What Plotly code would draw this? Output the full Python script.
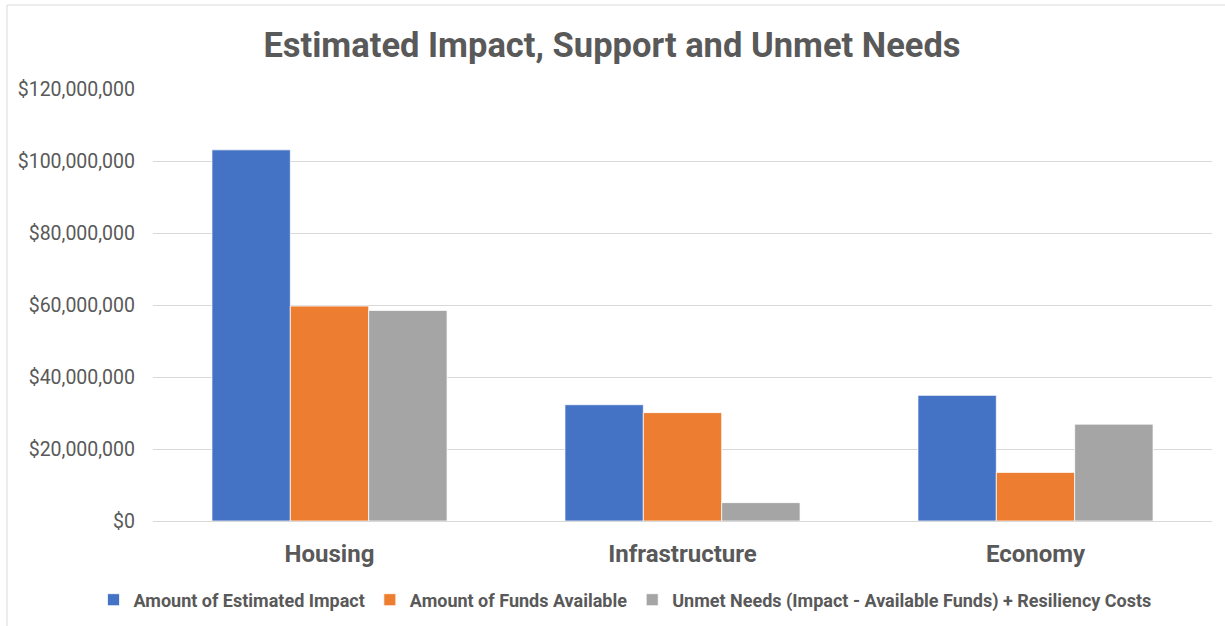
import plotly.graph_objects as go

categories = ["Housing", "Infrastructure", "Economy"]
series_names = [
    "Amount of Estimated Impact",
    "Amount of Funds Available",
    "Unmet Needs (Impact - Available Funds) + Resiliency Costs",
]
estimated_impact = [103100000, 32300000, 34900000]
funds_available = [59700000, 30100000, 13500000]
unmet_needs = [58500000, 5100000, 26900000]
colors = ["#4472C4", "#ED7D31", "#A5A5A5"]

FONT = "Roboto, Liberation Sans, sans-serif"
TXT = "#595959"

fig = go.Figure()
for name, vals, col in zip(series_names, [estimated_impact, funds_available, unmet_needs], colors):
    fig.add_trace(go.Bar(
        x=categories, y=vals, name="<b>" + name + "</b>",
        marker=dict(color=col, line=dict(color="white", width=0.75)),
    ))

W, H = 1225, 626
plot_left, plot_right, plot_top, plot_bottom = 153, 1212, 89, 521
L = plot_left
R = W - plot_right
T = plot_top
B = H - plot_bottom
pw, ph = W - L - R, H - T - B

def px_x(x):
    return (x - plot_left) / pw

def px_y(y):
    return (plot_bottom - y) / ph

fig.update_layout(
    width=W, height=H,
    margin=dict(l=L, r=R, t=T, b=B),
    paper_bgcolor="white", plot_bgcolor="white",
    barmode="group", bargap=0.334, bargroupgap=0,
    title=dict(text="<b>Estimated Impact, Support and Unmet Needs</b>",
               x=612 / W, xanchor="center", xref="container",
               y=1 - 45 / H, yanchor="middle",
               yref="container",
               font=dict(family=FONT, size=34.5, color=TXT)),
    font=dict(family=FONT, color=TXT),
    showlegend=True,
    legend=dict(orientation="h", x=625 / W, xanchor="center", xref="container",
                y=1 - 600 / H, yanchor="middle", yref="container",
                font=dict(family=FONT, size=18, color=TXT),
                tracegroupgap=0, traceorder="normal"),
    xaxis=dict(showline=False, showgrid=False, ticks="", automargin=False,
               ticklabelstandoff=16,
               tickfont=dict(family=FONT, size=24, color=TXT),
               tickprefix="<b>", ticksuffix="</b>"),
    yaxis=dict(range=[0, 120000000], dtick=20000000, tickprefix="$",
               tickformat=",d", showgrid=True, gridcolor="#D9D9D9",
               gridwidth=1, zeroline=True, zerolinecolor="#D9D9D9",
               zerolinewidth=1, showline=False, ticks="", automargin=False,
               ticklabelstandoff=17,
               tickfont=dict(family=FONT, size=19.5, color=TXT)),
    shapes=[dict(type="rect", xref="paper", yref="paper",
                 x0=px_x(7), x1=px_x(1240),
                 y0=px_y(640), y1=px_y(5),
                 line=dict(color="#D9D9D9", width=1), layer="below")],
)

fig.write_html(
    "out.html",
    config={"displayModeBar": False},
    post_script="document.body.style.margin='0';document.body.style.overflow='hidden';",
)
